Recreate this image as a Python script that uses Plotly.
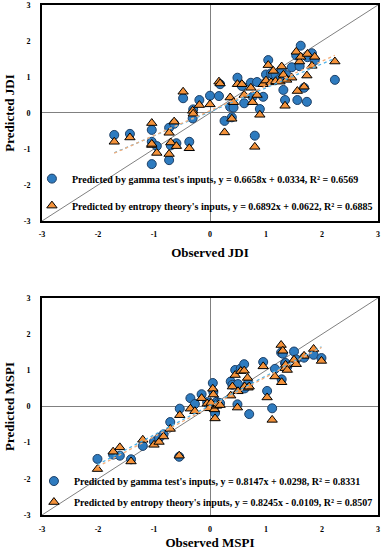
import plotly.graph_objects as go

# ---------------- data ----------------
jdi_obs = [-1.71, -1.43, -1.04, -1.04, -1.04, -0.95, -0.73, -0.64, -0.73, -0.70,
           -0.60, -0.37, -0.48, -0.31, -0.30, -0.19, 0.00, 0.16, 0.18, 0.26,
           0.36, 0.39, 0.42, 0.49, 0.57, 0.61, 0.73, 0.76, 0.80, 0.84,
           0.89, 0.95, 1.00, 1.04, 1.09, 1.13, 1.17, 1.25, 1.28, 1.31,
           1.34, 1.37, 1.46, 1.54, 1.56, 1.60, 1.62, 1.68, 1.73, 1.74,
           1.82, 1.87, 2.23]
jdi_gamma = [-0.61, -0.58, -0.47, -0.80, -1.42, -0.92, -0.41, -0.30, -1.31, -0.90,
             -0.84, -0.80, 0.41, -0.15, 0.10, 0.36, 0.48, 0.47, 0.80, -0.22,
             0.17, -0.12, 0.15, 0.98, 0.75, 0.27, 0.84, 0.45, -0.63, 0.86,
             0.11, 0.45, 1.07, 1.47, 1.10, 1.05, 1.07, 0.95, 1.20, 0.64,
             0.36, 1.05, 1.27, 1.60, 0.36, 1.30, 1.87, 0.70, 0.31, 1.55,
             1.66, 1.46, 0.92]
jdi_entropy = [-0.80, -0.68, -0.28, -0.89, -0.86, -1.11, -0.55, -0.24, -1.14, -0.82,
               -0.92, -0.98, 0.59, 0.06, -0.02, 0.22, 0.24, 0.87, 0.82, -0.54,
               0.43, -0.16, 0.30, 0.80, 0.80, 0.50, 0.70, 0.30, -0.94, 0.50,
               -0.05, 0.80, 0.90, 1.33, 0.85, 1.17, 0.88, 0.87, 1.29, 1.06,
               0.20, 0.92, 0.98, 1.70, 0.61, 1.43, 1.56, 0.73, 1.04, 1.64,
               1.31, 1.56, 1.43]

mspi_obs = [-2.01, -1.73, -1.61, -1.41, -1.20, -1.00, -0.91, -0.83, -0.71, -0.55,
            -0.54, -0.35, -0.27, -0.15, -0.05, -0.02, 0.02, 0.05, 0.06, 0.08,
            0.09, 0.12, 0.15, 0.18, 0.37, 0.40, 0.45, 0.49, 0.50, 0.55,
            0.61, 0.62, 0.67, 0.68, 0.70, 0.95, 1.02, 1.11, 1.16, 1.27,
            1.28, 1.30, 1.34, 1.35, 1.38, 1.50, 1.54, 1.68, 1.85, 1.99]
mspi_gamma = [-1.45, -1.33, -1.36, -1.46, -1.09, -0.97, -0.87, -0.77, -0.43, -1.39,
              -0.06, 0.23, 0.07, 0.34, 0.12, 0.05, 0.02, 0.65, 0.40, 0.00,
              -0.18, 0.13, 0.10, 0.09, 0.69, 0.60, 1.01, 0.06, 0.62, 1.05,
              1.17, 0.50, 0.60, 0.65, -0.21, 1.23, 0.43, -0.05, 1.04, 1.49,
              0.75, 1.46, 1.20, 1.20, 1.10, 1.52, 1.30, 1.35, 1.43, 1.34]
mspi_entropy = [-1.73, -1.25, -1.13, -1.52, -0.92, -1.06, -0.98, -0.83, -0.62, -1.36,
                -0.24, -0.06, -0.13, 0.23, 0.08, -0.05, 0.10, 0.49, 0.33, -0.08,
                -0.33, 0.02, 0.05, 0.04, 0.30, 0.55, 0.87, -0.03, 0.42, 0.98,
                0.99, 0.55, 0.79, 0.52, 0.55, 1.11, 0.25, -0.37, 0.83, 1.70,
                0.67, 1.54, 1.06, 1.15, 1.01, 1.29, 1.17, 1.40, 1.59, 1.26]

# trend-line coefficients printed in the legends
jdi_fit_gamma = (0.6658, 0.0334)
jdi_fit_entropy = (0.6892, 0.0622)
mspi_fit_gamma = (0.8147, 0.0298)
mspi_fit_entropy = (0.8245, -0.0109)

tick_vals = [-3, -2, -1, 0, 1, 2, 3]
tick_text = ["-3", "-2", "-1", "0", "1", "2", "3"]
axis_range = [-3, 3]

# ---------------- style ----------------
SERIF = "Liberation Serif, Times New Roman, serif"
BLUE = "#2E7BBF"
ORANGE = "#F4923A"
GREY = "#808080"

fig = go.Figure()


def add_panel(xa, ya, legend, obs, g, e, fg, fe, gname, ename):
    xr = [min(obs), max(obs)]
    fig.add_trace(go.Scatter(x=axis_range, y=axis_range, mode="lines",
                             line=dict(color=GREY, width=1), showlegend=False,
                             hoverinfo="skip", xaxis=xa, yaxis=ya))
    fig.add_trace(go.Scatter(x=obs, y=g, mode="markers", name=gname,
                             legend=legend, legendgroup="g",
                             marker=dict(symbol="circle", size=9, color=BLUE,
                                         line=dict(color="#1D3F66", width=1)),
                             xaxis=xa, yaxis=ya))
    fig.add_trace(go.Scatter(x=obs, y=e, mode="markers", name=ename,
                             legend=legend, legendgroup="e",
                             marker=dict(symbol="triangle-up", size=9, color=ORANGE,
                                         line=dict(color="black", width=1)),
                             xaxis=xa, yaxis=ya))
    fig.add_trace(go.Scatter(x=xr, y=[fg[0] * v + fg[1] for v in xr], mode="lines",
                             line=dict(color="#4FB3E8", width=1.3, dash="dot"),
                             showlegend=False, hoverinfo="skip", xaxis=xa, yaxis=ya))
    fig.add_trace(go.Scatter(x=xr, y=[fe[0] * v + fe[1] for v in xr], mode="lines",
                             line=dict(color="#F5AE7A", width=1.3, dash="dot"),
                             showlegend=False, hoverinfo="skip", xaxis=xa, yaxis=ya))


add_panel("x", "y", "legend", jdi_obs, jdi_gamma, jdi_entropy,
          jdi_fit_gamma, jdi_fit_entropy,
          "Predicted by gamma test's inputs, y = 0.6658x + 0.0334, R² = 0.6569",
          "Predicted by entropy theory's inputs, y = 0.6892x + 0.0622, R² = 0.6885")
add_panel("x2", "y2", "legend2", mspi_obs, mspi_gamma, mspi_entropy,
          mspi_fit_gamma, mspi_fit_entropy,
          "Predicted by gamma test's inputs, y = 0.8147x + 0.0298, R² = 0.8331",
          "Predicted by entropy theory's inputs, y = 0.8245x - 0.0109, R² = 0.8507")

tickfont = dict(family=SERIF, size=8, color="black", weight="bold")
titlefont = dict(family=SERIF, size=13, color="black", weight="bold")


def axis(domain, anchor, title, standoff, tls):
    return dict(domain=domain, anchor=anchor, range=axis_range,
                tickvals=tick_vals, ticktext=tick_text, tickfont=tickfont,
                showgrid=False, zeroline=True, zerolinecolor=GREY, zerolinewidth=1,
                showline=True, mirror=True, linecolor="black", linewidth=2,
                ticks="", ticklabelstandoff=tls,
                title=dict(text=title, font=titlefont, standoff=standoff),
                automargin=False, fixedrange=True)


legfont = dict(family=SERIF, size=10, color="black", weight="bold")

fig.update_layout(
    width=384, height=550,
    margin=dict(l=42, r=6, t=5, b=35),
    paper_bgcolor="white", plot_bgcolor="white",
    xaxis=axis([0, 1], "y", "Observed JDI", 10, 4),
    yaxis=axis([0.5765, 1.0], "x", "Predicted JDI", 6, 8),
    xaxis2=axis([0, 1], "y2", "Observed MSPI", 10, 5),
    yaxis2=axis([0.0, 0.4255], "x2", "Predicted MSPI", 6, 8),
    legend=dict(x=-0.030, y=0.688, xanchor="left", yanchor="top",
                bgcolor="rgba(0,0,0,0)", font=legfont, traceorder="grouped",
                tracegroupgap=8, itemwidth=30),
    legend2=dict(x=-0.024, y=0.095, xanchor="left", yanchor="top",
                 bgcolor="rgba(0,0,0,0)", font=legfont, traceorder="grouped",
                 tracegroupgap=2, itemwidth=30),
)

fig.write_html("out.html", config={"displayModeBar": False},
               post_script="document.body.style.margin='0';")
